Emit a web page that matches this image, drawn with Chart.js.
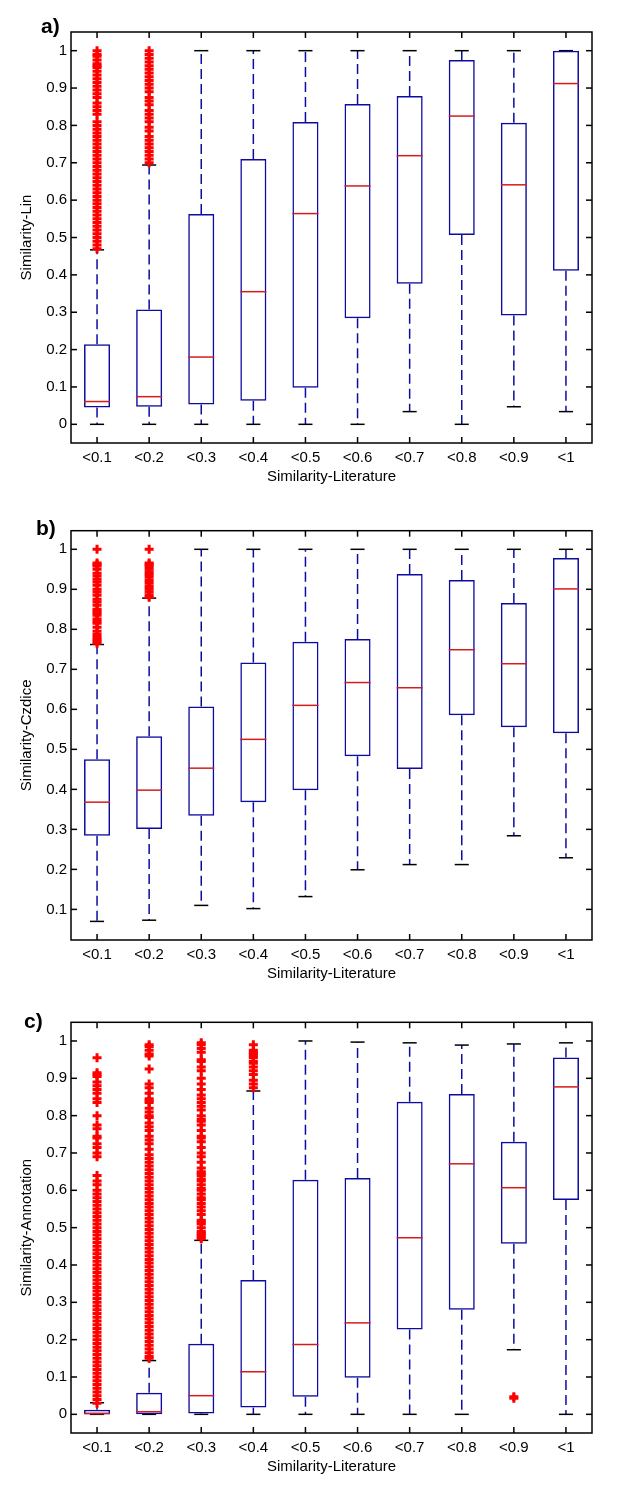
<!DOCTYPE html>
<html>
<head>
<meta charset="utf-8">
<title>Similarity boxplots</title>
<script src="https://cdn.jsdelivr.net/npm/chart.js@4.4.1/dist/chart.umd.min.js"></script>
<style>
  body { margin: 0; background: #fff; }
  #page { position: relative; width: 621px; height: 1500px; }
  canvas { position: absolute; left: 0; }
  .tag { position: absolute; font: bold 21px "Liberation Sans", Arial, sans-serif; line-height: 21px; color: #000; }
</style>
</head>
<body>
<div id="page">
  <canvas id="chartA" width="621" height="490" style="top:0px"></canvas>
  <canvas id="chartB" width="621" height="497" style="top:490px"></canvas>
  <canvas id="chartC" width="621" height="493" style="top:987px"></canvas>
  <div class="tag" style="left:41px;top:15px">a)</div>
  <div class="tag" style="left:36px;top:517px">b)</div>
  <div class="tag" style="left:24px;top:1010px">c)</div>
</div>
<script>
// categories shared by all three panels
const categories = ['<0.1', '<0.2', '<0.3', '<0.4', '<0.5', '<0.6', '<0.7', '<0.8', '<0.9', '<1'];
const xTitle = 'Similarity-Literature';

// y ticks
const ticksFromZero = [0, 0.1, 0.2, 0.3, 0.4, 0.5, 0.6, 0.7, 0.8, 0.9, 1];
const labelsFromZero = ['0', '0.1', '0.2', '0.3', '0.4', '0.5', '0.6', '0.7', '0.8', '0.9', '1'];
const ticksFromTenth = [0.1, 0.2, 0.3, 0.4, 0.5, 0.6, 0.7, 0.8, 0.9, 1];
const labelsFromTenth = ['0.1', '0.2', '0.3', '0.4', '0.5', '0.6', '0.7', '0.8', '0.9', '1'];

// a) Similarity-Lin
const linLow  = [0, 0, 0, 0, 0, 0, 0.034, 0, 0.047, 0.034];
const linQ1   = [0.045, 0.047, 0.053, 0.063, 0.098, 0.284, 0.376, 0.507, 0.291, 0.411];
const linMed  = [0.061, 0.074, 0.180, 0.355, 0.564, 0.638, 0.719, 0.825, 0.641, 0.912];
const linQ3   = [0.214, 0.307, 0.563, 0.710, 0.809, 0.857, 0.879, 0.975, 0.807, 1.0];
const linHigh = [0.467, 0.694, 1, 1, 1, 1, 1, 1, 1, 1];
const linOut1 = [0.47, 0.48, 0.49, 0.50, 0.51, 0.52, 0.53, 0.54, 0.55, 0.56, 0.57, 0.58, 0.59, 0.60,
  0.61, 0.62, 0.63, 0.64, 0.65, 0.66, 0.67, 0.68, 0.69, 0.70, 0.71, 0.72, 0.73, 0.74, 0.75, 0.76, 0.77,
  0.78, 0.79, 0.80, 0.81, 0.83, 0.84, 0.85, 0.86, 0.875, 0.885, 0.895, 0.905, 0.915, 0.925, 0.935,
  0.945, 0.955, 0.96, 0.965, 0.975, 0.985, 0.99, 1.0];
const linOut2 = [0.70, 0.71, 0.72, 0.73, 0.74, 0.75, 0.76, 0.77, 0.785, 0.795, 0.81, 0.82, 0.83, 0.84,
  0.855, 0.865, 0.875, 0.89, 0.90, 0.91, 0.92, 0.93, 0.94, 0.95, 0.96, 0.97, 0.98, 0.99, 1.0];

// b) Similarity-Czdice
const czLow  = [0.070, 0.073, 0.110, 0.102, 0.132, 0.199, 0.212, 0.212, 0.284, 0.229];
const czQ1   = [0.284, 0.301, 0.334, 0.368, 0.398, 0.483, 0.451, 0.585, 0.555, 0.540];
const czMed  = [0.368, 0.398, 0.453, 0.525, 0.610, 0.667, 0.654, 0.749, 0.714, 0.901];
const czQ3   = [0.475, 0.533, 0.607, 0.717, 0.769, 0.776, 0.938, 0.923, 0.866, 0.978];
const czHigh = [0.762, 0.878, 1, 1, 1, 1, 1, 1, 1, 1];
const czOut1 = [1.0, 0.966, 0.962, 0.958, 0.95, 0.94, 0.933, 0.925, 0.918, 0.91, 0.9, 0.893, 0.885,
  0.875, 0.868, 0.86, 0.85, 0.845, 0.84, 0.835, 0.826, 0.82, 0.815, 0.805, 0.795, 0.787, 0.78, 0.775, 0.77, 0.765];
const czOut2 = [1.0, 0.966, 0.962, 0.957, 0.95, 0.943, 0.937, 0.93, 0.922, 0.915, 0.907, 0.9, 0.893, 0.886, 0.88];

// c) Similarity-Annotation
const annLow  = [0, 0, 0, 0, 0, 0, 0, 0, 0.173, 0];
const annQ1   = [0, 0, 0.002, 0.018, 0.047, 0.098, 0.227, 0.280, 0.457, 0.574];
const annMed  = [0.002, 0.007, 0.050, 0.114, 0.187, 0.245, 0.473, 0.671, 0.607, 0.877];
const annQ3   = [0.0125, 0.058, 0.189, 0.360, 0.628, 0.633, 0.837, 0.858, 0.730, 0.956];
const annHigh = [0.031, 0.144, 0.466, 0.866, 1.0, 0.997, 0.995, 0.989, 0.992, 0.995];
const annOut1 = [0.955, 0.915, 0.91, 0.905, 0.89, 0.88, 0.87, 0.86, 0.845, 0.835, 0.80, 0.775, 0.765,
  0.745, 0.74, 0.725, 0.715, 0.70, 0.69, 0.64, 0.625, 0.615,
  0.60, 0.59, 0.58, 0.57, 0.56, 0.55, 0.54, 0.53, 0.52, 0.51, 0.50, 0.49, 0.48, 0.47, 0.46, 0.45,
  0.44, 0.43, 0.42, 0.41, 0.40, 0.39, 0.38, 0.37, 0.36, 0.35, 0.34, 0.33, 0.32, 0.31, 0.30, 0.29,
  0.28, 0.27, 0.26, 0.25, 0.24, 0.23, 0.22, 0.21, 0.20, 0.19, 0.18, 0.17, 0.16, 0.15, 0.14, 0.13,
  0.12, 0.11, 0.10, 0.09, 0.08, 0.07, 0.06, 0.05, 0.04, 0.03];
const annOut2 = [0.99, 0.985, 0.975, 0.965, 0.96, 0.925, 0.885, 0.875, 0.86, 0.845, 0.84, 0.835, 0.82,
  0.81, 0.80, 0.795, 0.78, 0.77, 0.76, 0.745, 0.735, 0.725, 0.71, 0.695, 0.685, 0.675, 0.665, 0.655,
  0.645, 0.635, 0.625, 0.615, 0.605, 0.595, 0.585, 0.575, 0.565, 0.555, 0.545, 0.535, 0.525, 0.515,
  0.505, 0.495, 0.485, 0.475, 0.465, 0.455, 0.445, 0.435, 0.425, 0.415, 0.405, 0.395, 0.385, 0.375,
  0.365, 0.355, 0.345, 0.335, 0.325, 0.315, 0.305, 0.295, 0.285, 0.275, 0.265, 0.255, 0.245, 0.235,
  0.225, 0.215, 0.205, 0.195, 0.185, 0.175, 0.165, 0.155, 0.15];
const annOut3 = [0.995, 0.99, 0.98, 0.97, 0.95, 0.945, 0.93, 0.92, 0.90, 0.885, 0.87, 0.855, 0.845,
  0.835, 0.825, 0.815, 0.80, 0.79, 0.785, 0.775, 0.76, 0.745, 0.74, 0.73, 0.715, 0.70, 0.69, 0.675,
  0.66, 0.65, 0.645, 0.64, 0.63, 0.625, 0.615, 0.605, 0.60, 0.59, 0.58, 0.575, 0.565, 0.555, 0.545,
  0.535, 0.52, 0.515, 0.51, 0.50, 0.49, 0.485, 0.48, 0.475, 0.47];
const annOut4 = [0.99, 0.975, 0.97, 0.965, 0.96, 0.955, 0.945, 0.94, 0.93, 0.92, 0.91, 0.895, 0.885, 0.875];
const annOut9 = [0.047, 0.043];

const boxBlue = '#0c0ca0';
const medianRed = '#d41c1c';
const outlierRed = '#ff0000';

Chart.defaults.font.family = '"Liberation Sans", Arial, sans-serif';
Chart.defaults.font.size = 15;
Chart.defaults.color = '#000';

function points(cat, vals) {
    return vals.map(v => ({ x: cat, y: v }));
}

function line(ctx, x1, y1, x2, y2) {
    ctx.beginPath();
    ctx.moveTo(x1, y1);
    ctx.lineTo(x2, y2);
    ctx.stroke();
}

// whiskers, caps, medians and the axes frame
const boxParts = {
    id: 'boxParts',
    beforeDatasetsDraw(chart, args, opts) {
        const { ctx, scales: { x, y } } = chart;
        const step = x.getPixelForValue(1) - x.getPixelForValue(0);
        const cap = step * 0.135;
        ctx.save();
        ctx.lineWidth = 1.5;
        opts.q1.forEach((q1, i) => {
            const cx = x.getPixelForValue(i);
            const yLow = y.getPixelForValue(opts.low[i]);
            const yHigh = y.getPixelForValue(opts.high[i]);
            ctx.strokeStyle = boxBlue;
            ctx.setLineDash([10, 5]);
            line(ctx, cx, y.getPixelForValue(opts.q3[i]), cx, yHigh);
            line(ctx, cx, y.getPixelForValue(q1), cx, yLow);
            ctx.setLineDash([]);
            ctx.strokeStyle = '#000';
            line(ctx, cx - cap, yHigh, cx + cap, yHigh);
            line(ctx, cx - cap, yLow, cx + cap, yLow);
        });
        ctx.restore();
    },
    afterDatasetsDraw(chart, args, opts) {
        const { ctx, scales: { x, y } } = chart;
        const half = (x.getPixelForValue(1) - x.getPixelForValue(0)) * 0.25;
        ctx.save();
        ctx.lineWidth = 1.5;
        ctx.strokeStyle = medianRed;
        opts.med.forEach((m, i) => {
            const cx = x.getPixelForValue(i);
            const ym = y.getPixelForValue(m);
            line(ctx, cx - half, ym, cx + half, ym);
        });
        ctx.restore();
    },
    afterDraw(chart) {
        const { ctx, chartArea: a, scales: { x, y } } = chart;
        ctx.save();
        ctx.strokeStyle = '#000';
        ctx.lineWidth = 1.5;
        ctx.strokeRect(a.left, a.top, a.right - a.left, a.bottom - a.top);
        y.ticks.forEach(t => {
            const py = y.getPixelForValue(t.value);
            line(ctx, a.left, py, a.left + 6, py);
            line(ctx, a.right - 6, py, a.right, py);
        });
        categories.forEach((c, i) => {
            const px = x.getPixelForValue(i);
            line(ctx, px, a.top, px, a.top + 6);
            line(ctx, px, a.bottom - 6, px, a.bottom);
        });
        ctx.restore();
    }
};

function makePanel(id, p) {
    new Chart(document.getElementById(id), {
        type: 'bar',
        data: {
            labels: categories,
            datasets: [{
                type: 'line',
                data: p.outliers,
                showLine: false,
                pointStyle: 'cross',
                pointRadius: 4.5,
                pointBorderWidth: 3,
                borderColor: outlierRed,
                pointBorderColor: outlierRed,
                order: 0
            }, {
                data: p.q1.map((q, i) => [q, p.q3[i]]),
                backgroundColor: 'rgba(0,0,0,0)',
                borderColor: boxBlue,
                borderWidth: 1.5,
                borderSkipped: false,
                barPercentage: 0.5,
                categoryPercentage: 1,
                order: 1
            }]
        },
        options: {
            responsive: false,
            animation: false,
            devicePixelRatio: 1,
            layout: { padding: { top: p.top, right: 29, left: 0, bottom: 0 } },
            plugins: {
                legend: { display: false },
                tooltip: { enabled: false },
                boxParts: { low: p.low, q1: p.q1, med: p.med, q3: p.q3, high: p.high }
            },
            scales: {
                x: {
                    offset: true,
                    grid: { display: false, drawTicks: false },
                    border: { display: false },
                    ticks: { padding: 6, maxRotation: 0, autoSkip: false },
                    title: { display: true, text: xTitle, padding: { top: 0, bottom: 4 } },
                    afterFit: s => { s.height = 47; }
                },
                y: {
                    min: p.min,
                    max: p.max,
                    grid: { display: false, drawTicks: false },
                    border: { display: false },
                    afterBuildTicks: s => { s.ticks = p.ticks.map(v => ({ value: v })); },
                    ticks: { padding: 4, callback: (v, i) => p.labels[i] },
                    title: { display: true, text: p.yTitle, padding: { top: 18, bottom: 0 } },
                    afterFit: s => { s.width = 71; }
                }
            }
        },
        plugins: [boxParts]
    });
}

makePanel('chartA', {
    top: 32, min: -0.05, max: 1.05, ticks: ticksFromZero, labels: labelsFromZero,
    yTitle: 'Similarity-Lin',
    low: linLow, q1: linQ1, med: linMed, q3: linQ3, high: linHigh,
    outliers: [...points('<0.1', linOut1), ...points('<0.2', linOut2)]
});

makePanel('chartB', {
    top: 40.7, min: 0.0235, max: 1.0465, ticks: ticksFromTenth, labels: labelsFromTenth,
    yTitle: 'Similarity-Czdice',
    low: czLow, q1: czQ1, med: czMed, q3: czQ3, high: czHigh,
    outliers: [...points('<0.1', czOut1), ...points('<0.2', czOut2)]
});

makePanel('chartC', {
    top: 35.3, min: -0.05, max: 1.05, ticks: ticksFromZero, labels: labelsFromZero,
    yTitle: 'Similarity-Annotation',
    low: annLow, q1: annQ1, med: annMed, q3: annQ3, high: annHigh,
    outliers: [...points('<0.1', annOut1), ...points('<0.2', annOut2), ...points('<0.3', annOut3),
               ...points('<0.4', annOut4), ...points('<0.9', annOut9)]
});
</script>
</body>
</html>
